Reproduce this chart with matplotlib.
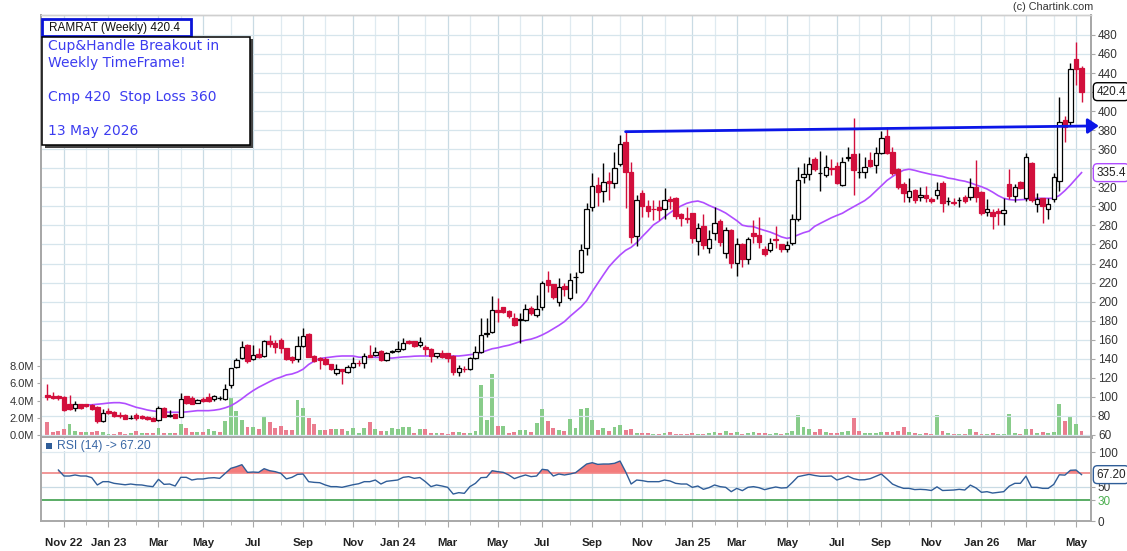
import numpy as np
import pandas as pd
import matplotlib
matplotlib.use("Agg")
import matplotlib.pyplot as plt
from matplotlib.patches import Rectangle
from matplotlib.ticker import FuncFormatter

plt.rcParams['font.family'] = ['Liberation Sans', 'DejaVu Sans']

# ---------------- data ----------------
first_week = "2022-10-17"
symbol_title = "RAMRAT (Weekly) 420.4"
note_lines = ["Cup&Handle Breakout in", "Weekly TimeFrame!", "", "Cmp 420  Stop Loss 360", "", "13 May 2026"]

opens = [
    102, 101, 101, 100, 92.5, 88, 92, 92, 91, 89,
    75, 85.5, 84, 81, 81, 78, 81, 80, 79, 78,
    75.7, 88, 80, 82, 79, 101, 99, 94, 97.8, 99.5,
    97.4, 98.5, 97.4, 112, 131.7, 140.5, 154.5, 139.4, 145, 142.9,
    159, 156.9, 160, 151, 141.5, 139.4, 153.4, 165.7, 142.9, 141.2,
    139.4, 134.5, 125.4, 129.3, 126.5, 131.7, 136, 135.9, 144, 144,
    148.2, 138.7, 147.5, 148.2, 150, 159, 158.7, 154, 152, 150.3,
    142.9, 145.7, 145.7, 142.9, 126.5, 129.5, 129, 140.5, 146.8, 166.5,
    168.5, 191.2, 194, 190.5, 182.5, 181, 180.7, 193, 185.9, 194,
    222.7, 218.5, 200, 216.4, 203.4, 225.5, 231.4, 255.9, 299.7, 322.4,
    316.1, 326.6, 324.2, 344.5, 368, 336.4, 268.9, 314.4, 300.4, 297,
    299, 296.9, 308, 308.4, 292, 288.1, 292.7, 264, 279.4, 255.9,
    272.4, 284.6, 250.7, 275.2, 240.9, 260.5, 244.4, 271.7, 270, 255.2,
    254.2, 266.1, 260.5, 254.9, 261.2, 286.4, 330.5, 333.9, 349.7, 334.6,
    332.9, 340.6, 342.3, 322.4, 351, 354.9, 336.4, 336.4, 348.6, 343.4,
    356.3, 373.8, 357.4, 338.8, 323.4, 309.4, 317.1, 309.4, 311.9, 307.3,
    311.9, 324.8, 305.9, 304.9, 306.6, 309.4, 310.1, 320.6, 314.7, 294.4,
    294.4, 295.1, 292.6, 323.4, 310.8, 325.9, 309.1, 345.1, 302.4, 308.4,
    296.8, 307.3, 326.9, 390.6, 388.9, 454.3, 444.9,
]
highs = [
    114, 105, 102, 101, 102, 95.5, 93, 92.5, 92, 90,
    87, 88, 85.5, 84.5, 82, 81, 83.5, 81, 80, 79,
    90.5, 89, 86.5, 82.5, 104.4, 101, 100.9, 98, 100.2, 104.4,
    101.6, 100.9, 113.5, 130.7, 140.5, 158.7, 155.5, 154.5, 151, 159.7,
    165, 159.7, 161.5, 151, 143, 163.9, 172, 166.7, 143.9, 141.5,
    141.5, 135, 135, 129.3, 133.4, 142.2, 138.7, 145.7, 154.5, 152.7,
    149, 147.5, 149.2, 159, 161.5, 159.7, 159, 163.2, 154.5, 151,
    146.5, 149.2, 146, 143.9, 133.4, 132.5, 141.5, 153.4, 182.5, 182.5,
    205.9, 203.5, 194.5, 191, 188.4, 188.4, 197.3, 195, 207, 222,
    232.5, 219, 224.4, 219.2, 230.4, 231.4, 260.5, 303.9, 335.4, 331,
    345.2, 336.4, 357.4, 375, 378.4, 346.9, 312, 317, 306.7, 306.7,
    306.7, 319, 311, 310, 292.7, 299, 293, 282.2, 292, 275.2,
    299, 286.4, 278.6, 276, 266.4, 262, 267.5, 285.7, 289, 258,
    266.4, 279.4, 261, 264, 292, 341, 345.1, 352, 351.5, 358.4,
    353.9, 349.3, 347, 352.1, 362.6, 393, 356.3, 351.5, 357.4, 361.9,
    379.4, 383.6, 361.9, 340, 325.9, 329.4, 318, 320.6, 321.3, 310.1,
    325.9, 326.9, 310.1, 308.4, 310.1, 311.9, 329.4, 348.6, 316, 307.3,
    297, 297.8, 309.1, 338.8, 323.4, 327, 356.3, 347, 313.6, 309,
    308.4, 334.6, 414.4, 395.2, 450, 472.9, 447.3,
]
lows = [
    97, 98, 97, 85, 86, 85.5, 87, 89.5, 86, 73,
    74, 82, 79, 77.5, 76.5, 76.5, 75.5, 76.5, 75.5, 74.5,
    75, 78.5, 79, 77.5, 78.5, 92.5, 93.2, 93.2, 94.3, 95,
    96, 96.7, 96.7, 109.7, 130.7, 139.4, 135.9, 138.7, 140.5, 142.2,
    152.7, 145.7, 145.7, 138.7, 136, 137, 152.5, 142.2, 137, 129,
    133.5, 128, 123, 113.5, 125.5, 130.5, 132.5, 130, 141.5, 143,
    137.5, 137.5, 145.7, 147, 149, 155.5, 152.5, 152.5, 144, 137,
    141, 140.5, 137, 123, 122, 126.5, 128, 140, 146, 163.2,
    166.7, 179, 188, 183, 174, 157, 179.5, 185.5, 184, 191,
    210, 203, 195, 205.5, 201.5, 208.7, 229.7, 249, 295.5, 300.4,
    305, 306.7, 319, 342, 298, 262, 258.4, 288.5, 288.5, 285.7,
    286, 287, 297, 287, 279.4, 282, 262, 249, 255, 250.7,
    265, 258, 246, 235, 226.9, 236.7, 239.5, 262, 256, 248,
    252.5, 256, 252, 252, 259.5, 285, 324.8, 327.6, 337, 316.4,
    331, 332.9, 323, 321.5, 348, 311.9, 330, 330, 341.5, 335.3,
    355, 355, 333, 318, 304.9, 305, 303.1, 306, 305, 303,
    308, 294.4, 301, 301, 299.6, 304, 307, 305, 291, 290,
    275.8, 280.4, 280.4, 308, 305, 318, 306, 305, 294.4, 282,
    286.4, 305, 316.4, 367.8, 385.4, 427.4, 409.9,
]
closes = [
    99.5, 99, 98.5, 86, 87, 92, 88, 90, 87, 75,
    83, 83.5, 80, 79.5, 77, 78, 77.5, 77.5, 76.5, 75,
    88, 79, 81, 78, 97.4, 93.2, 93, 96.7, 96, 96,
    100.5, 98.5, 107.9, 130, 138.7, 152.7, 138, 143.6, 142.2, 159,
    155.5, 152.7, 151, 139.4, 138.7, 153.4, 163.9, 142.2, 138, 138.7,
    134.5, 128.9, 128.9, 127.5, 131, 135.2, 135.2, 142.9, 142.2, 147.5,
    138.7, 146.4, 148.5, 150.3, 156.9, 157, 153.4, 158, 150, 142.9,
    145.7, 142.2, 140.5, 126.5, 130, 129, 140.5, 146.8, 165, 167,
    191.2, 189.5, 189.5, 185, 175.5, 181.8, 192, 187.7, 191.9, 219.2,
    217.4, 204.5, 215, 212.9, 222.7, 225.5, 254.2, 296.9, 321.4, 315.4,
    325.9, 324.2, 339.9, 365.5, 336.4, 268.2, 306.7, 300.4, 295.5, 296.9,
    296, 306.7, 306, 289.9, 287.4, 286.4, 266.4, 276.9, 259.4, 265.4,
    282.9, 263, 275.2, 240.9, 260.5, 244.4, 265.4, 268.9, 263, 250,
    261.9, 264.7, 254.9, 259.4, 286.4, 327.7, 333.9, 344, 338.8, 335,
    340.9, 338.8, 324.8, 346.9, 351.5, 338.1, 336.4, 340.9, 342.3, 356.3,
    371.4, 356.3, 334.6, 320.6, 313.6, 316.1, 306.6, 311.9, 308.4, 305.9,
    317.1, 303.1, 305.9, 303.1, 306.6, 305.9, 319.9, 310.1, 293.3, 296.8,
    289.8, 292.6, 296.1, 310.8, 319.9, 319.6, 352.1, 306.6, 307.3, 300.3,
    302.4, 330.4, 388.9, 383.6, 443.8, 443.8, 420.4,
]
volume_m = [
    1.55, 0.4, 0.5, 0.7, 1.3, 0.47, 0.4, 0.35, 0.35, 0.5,
    0.3, 0.15, 0.1, 0.35, 0.15, 0.27, 0.47, 0.23, 0.19, 0.23,
    0.82, 0.23, 0.23, 0.23, 1.3, 0.8, 0.35, 0.35, 0.35, 0.66,
    0.47, 0.35, 1.63, 4.4, 2.8, 1.7, 0.9, 0.9, 0.75, 2.2,
    1.55, 0.8, 1.05, 0.55, 0.6, 4.07, 3.1, 1.94, 1.28, 0.6,
    0.6, 0.7, 0.7, 0.66, 0.43, 0.78, 0.27, 0.78, 1.55, 0.7,
    0.5, 0.47, 0.8, 0.7, 0.93, 0.93, 0.23, 0.7, 0.7, 0.23,
    0.23, 0.23, 0.15, 0.4, 0.4, 0.23, 0.23, 0.47, 5.81, 1.74,
    7.09, 1.05, 1.05, 0.27, 0.39, 0.58, 0.58, 0.39, 1.36, 2.99,
    1.63, 0.8, 0.58, 0.47, 1.82, 0.8, 3.02, 3.14, 1.78, 0.58,
    0.8, 0.47, 0.93, 1.16, 0.58, 0.66, 0.27, 0.23, 0.23, 0.12,
    0.12, 0.23, 0.35, 0.15, 0.15, 0.15, 0.23, 0.15, 0.15, 0.23,
    0.39, 0.23, 0.47, 0.23, 0.39, 0.15, 0.23, 0.39, 0.27, 0.27,
    0.15, 0.23, 0.15, 0.27, 0.5, 2.33, 0.93, 0.7, 0.39, 0.74,
    0.39, 0.27, 0.27, 0.39, 0.5, 2.0, 0.5, 0.27, 0.27, 0.27,
    0.39, 0.39, 0.39, 0.5, 0.93, 0.39, 0.27, 0.15, 0.27, 0.15,
    2.33, 0.5, 0.27, 0.15, 0.15, 0.15, 0.7, 0.39, 0.15, 0.15,
    0.27, 0.15, 0.15, 2.48, 0.27, 0.15, 0.7, 0.7, 0.27, 0.39,
    0.27, 0.39, 3.6, 1.63, 2.1, 1.3, 0.5,
]
nan = float('nan')
ma20 = [
    nan, nan, nan, nan, 91.0, 91.2, 91.4, 91.5, 91.7, 92.2,
    92.8, 93.5, 93.9, 93.9, 93.0, 91.0, 89.0, 87.7, 86.2, 85.2,
    84.6, 84.2, 83.8, 83.8, 83.8, 84.2, 84.8, 85.5, 85.5, 85.5,
    86.0, 86.9, 88.5, 90.6, 94.0, 98.0, 102.5, 106.5, 110.0, 113.0,
    116.0, 118.8, 120.7, 123.0, 124.0, 126.0, 129.0, 134.0, 137.5, 140.3,
    141.0, 141.7, 142.5, 142.9, 142.9, 142.9, 141.7, 141.5, 141.5, 141.5,
    141.3, 140.8, 140.7, 141.3, 141.9, 142.2, 142.7, 142.9, 142.9, 142.9,
    142.9, 142.9, 142.9, 142.9, 142.9, 143.5, 144.3, 145.0, 146.5, 148.5,
    150.5, 151.5, 153.0, 154.2, 156.0, 158.0, 159.5, 160.6, 162.5, 165.0,
    168.0, 171.5, 175.0, 179.0, 184.5, 189.5, 194.5, 201.0, 210.5, 219.3,
    228.0, 236.5, 243.0, 248.9, 253.8, 257.0, 261.9, 268.3, 274.2, 280.5,
    284.3, 289.0, 293.3, 297.3, 300.5, 303.2, 304.8, 305.6, 303.9, 301.0,
    298.5, 296.0, 293.0, 289.0, 285.0, 280.2, 279.0, 278.7, 276.5, 274.7,
    273.0, 270.7, 268.0, 266.4, 267.5, 270.0, 272.3, 274.0, 279.0, 282.1,
    285.0, 288.0, 290.5, 292.8, 296.3, 299.6, 302.8, 306.0, 310.5, 316.0,
    321.6, 327.2, 331.3, 335.0, 338.0, 339.0, 337.8, 336.2, 334.8, 333.5,
    332.4, 331.4, 329.7, 328.8, 327.4, 326.4, 324.7, 322.5, 320.6, 318.2,
    315.0, 311.3, 308.5, 307.1, 306.6, 307.0, 307.3, 308.2, 308.4, 308.4,
    308.4, 308.4, 311.4, 316.5, 322.4, 329.0, 335.4,
]
rsi14 = [
    nan, nan, 73.9, 65.2, 65.2, 66.7, 65.2, 65.2, 62.8, 52.2,
    57.0, 57.0, 54.6, 53.6, 52.5, 53.6, 52.5, 52.2, 50.7, 49.8,
    60.4, 53.1, 53.6, 50.7, 63.3, 63.3, 59.4, 60.9, 60.9, 62.3,
    62.8, 61.8, 69.1, 76.3, 78.7, 81.6, 70.5, 71.0, 70.5, 75.8,
    72.9, 71.5, 69.1, 61.0, 63.3, 67.6, 68.1, 57.0, 56.0, 55.5,
    52.2, 49.8, 49.8, 48.8, 50.7, 52.6, 54.0, 57.0, 57.0, 59.4,
    53.6, 57.5, 58.5, 59.4, 63.3, 64.3, 61.8, 63.0, 57.0, 49.8,
    52.2, 50.7, 48.8, 39.1, 41.1, 40.1, 49.8, 54.6, 62.8, 63.3,
    72.9, 71.5, 70.5, 66.7, 61.4, 64.3, 66.7, 64.3, 65.2, 74.9,
    73.9, 65.2, 68.1, 66.7, 68.1, 70.0, 76.3, 82.6, 84.5, 82.1,
    82.6, 82.6, 83.6, 86.9, 71.5, 53.6, 59.4, 58.5, 57.0, 57.0,
    57.0, 59.4, 58.0, 54.6, 53.6, 53.6, 48.8, 50.7, 45.9, 48.3,
    52.2, 49.8, 48.8, 42.5, 47.3, 44.0, 48.8, 49.8, 48.3, 45.4,
    47.5, 49.3, 47.8, 48.3, 56.0, 64.3, 66.0, 67.6, 66.0, 64.8,
    64.8, 65.2, 59.4, 62.0, 65.0, 61.4, 59.6, 59.8, 61.4, 64.8,
    68.1, 61.0, 53.5, 50.0, 47.3, 47.3, 45.5, 45.9, 45.4, 44.2,
    49.5, 44.2, 44.5, 44.9, 45.9, 44.9, 52.0, 48.0, 41.6, 42.5,
    40.5, 41.5, 42.5, 50.5, 54.6, 54.6, 65.0, 48.8, 48.8, 47.3,
    47.3, 53.0, 67.0, 66.5, 73.5, 73.9, 67.2,
]
# hand-drawn breakout line: from the high of candle #105 to just past the last candle
trend_idx = [104, 189.1]
trend_price = [378.4, 384.5]

price_ticks = list(range(60, 481, 20))
vol_ticks_m = [0, 2, 4, 6, 8]
rsi_ticks = [0, 30, 50, 100]

# ---------------- styling ----------------
W, H = 1127, 551
RED = '#d20f3c'
VOL_UP = '#88cc8a'
VOL_DN = '#ea7d8f'
PURPLE = '#b04dff'
RSI_BLUE = '#2f5d98'
GRID_MIN = '#dfeaf0'
GRID_MAJ = '#c9dbe4'
SPINE = '#a8a8a8'

def fx(px):
    return px / W

def fy(py):
    return 1 - py / H

fig = plt.figure(figsize=(W / 100, H / 100), dpi=100)
fig.patch.set_facecolor('white')

L, R = 41, 1091
TOP, MID, BOT = 15, 437, 521

ax_vol = fig.add_axes([fx(L), fy(MID), (R - L) / W, (MID - TOP) / H])
ax = ax_vol.twinx()
ax_r = fig.add_axes([fx(L), fy(BOT), (R - L) / W, (BOT - MID - 1) / H], sharex=ax_vol)

n = len(closes)
idx = np.arange(n)
o = np.array(opens, float)
h = np.array(highs, float)
lo = np.array(lows, float)
c = np.array(closes, float)
vol = np.array(volume_m, float) * 1e6
dates = pd.date_range(first_week, periods=n, freq='7D')

# month ticks (first candle of each month)
major_pos, major_lab, minor_pos = [], [], []
first_label = True
for k in range(1, n):
    if dates[k].month != dates[k - 1].month:
        m = dates[k].month
        if m % 2 == 1:
            major_pos.append(k)
            if m == 1 or first_label:
                major_lab.append(dates[k].strftime('%b %y'))
            else:
                major_lab.append(dates[k].strftime('%b'))
            first_label = False
        else:
            minor_pos.append(k)

ax_vol.set_xlim(-1.13, 187.7)

# vertical grid lines
for a in (ax_vol, ax_r):
    for p in minor_pos:
        a.axvline(p, color=GRID_MIN, lw=0.9, zorder=0)
    for p in major_pos:
        a.axvline(p, color=GRID_MAJ, lw=0.9, zorder=0)

# ---------- volume ----------
vol_colors = [VOL_DN] + [VOL_UP if c[k] >= c[k - 1] else VOL_DN for k in range(1, n)]
ax_vol.bar(idx, vol, width=0.7, color=vol_colors, zorder=2, linewidth=0)
ax_vol.set_ylim(-0.233e6, 48.84e6)
ax_vol.set_yticks([v * 1e6 for v in vol_ticks_m])
ax_vol.yaxis.set_major_formatter(FuncFormatter(lambda v, p: f'{v / 1e6:.1f}M'))
ax_vol.tick_params(axis='y', which='both', left=True, length=3, color=SPINE,
                   labelsize=8, labelcolor='#333333', pad=2)
ax_vol.tick_params(axis='x', which='both', length=0, labelbottom=False)
ax_vol.patch.set_facecolor('white')

# ---------- price ----------
box_values = [closes[-1], ma20[-1]]
ax.set_ylim(57.85, 500.9)
ax.set_yticks(price_ticks)
# tick labels that sit under the value boxes are hidden, as in the original
ax.set_yticklabels([('' if any(abs(t - b) < 9 for b in box_values) else f'{t}') for t in price_ticks])
ax.tick_params(axis='y', right=True, length=3, color=SPINE, labelsize=8.5,
               labelcolor='#333333', pad=2)
ax.set_axisbelow(True)
ax.grid(axis='y', color='#d6e5ec', lw=0.9)
ax.plot(idx, ma20, color=PURPLE, lw=1.2, zorder=2.5)

up = c >= o
body_lo = np.minimum(o, c)
body_h = np.abs(c - o)
wick_cols = [('black' if u else RED) for u in up]
ax.vlines(idx, lo, h, colors=wick_cols, lw=1.0, zorder=3)
ax.bar(idx[up], body_h[up], bottom=body_lo[up], width=0.8, facecolor='white',
       edgecolor='black', linewidth=0.9, zorder=4)
ax.bar(idx[~up], body_h[~up], bottom=body_lo[~up], width=0.8, facecolor=RED,
       edgecolor=RED, linewidth=0.9, zorder=4)

# breakout line with arrow
ax.annotate('', xy=(trend_idx[1], trend_price[1]), xytext=(trend_idx[0], trend_price[0]),
            xycoords='data', textcoords='data', annotation_clip=False,
            arrowprops=dict(arrowstyle='-|>,head_length=0.65,head_width=0.45',
                            color='#0b16e8', lw=2.0, shrinkA=0, shrinkB=0,
                            mutation_scale=10), zorder=8)

# value boxes on the price axis
ax.annotate(f'{closes[-1]:.1f}', xy=(1.0, closes[-1]), xycoords=('axes fraction', 'data'),
            xytext=(3.8, 0), textcoords='offset points', ha='left', va='center',
            fontsize=8.5, color='#222222', annotation_clip=False, zorder=10,
            bbox=dict(boxstyle='round,pad=0.25,rounding_size=0.35', fc='white', ec='black', lw=1))
ax.annotate(f'{ma20[-1]:.1f}', xy=(1.0, ma20[-1]), xycoords=('axes fraction', 'data'),
            xytext=(3.8, 0), textcoords='offset points', ha='left', va='center',
            fontsize=8.5, color='#222222', annotation_clip=False, zorder=10,
            bbox=dict(boxstyle='round,pad=0.25,rounding_size=0.35', fc='white', ec=PURPLE, lw=1))

for a in (ax_vol, ax):
    a.spines['left'].set_color(SPINE)
    a.spines['left'].set_linewidth(1.4)
    a.spines['right'].set_color(SPINE)
    a.spines['right'].set_linewidth(1.4)
    a.spines['top'].set_color('#cfcfcf')
    a.spines['top'].set_linewidth(1.0)
    a.spines['bottom'].set_color(SPINE)
    a.spines['bottom'].set_linewidth(2.0)

# ---------- RSI ----------
r = np.array(rsi14, float)
ax_r.set_ylim(0, 120.3)
ax_r.axhline(100, color=GRID_MIN, lw=0.9, zorder=0)
ax_r.axhline(50, color=GRID_MAJ, lw=0.9, zorder=0)
ax_r.axhline(70, color='#f08585', lw=1.2, zorder=1)
ax_r.axhline(30, color='#3d9e4c', lw=1.2, zorder=1)
ax_r.fill_between(idx, r, 70, where=(r >= 70), interpolate=True, color='#f47c7c', lw=0, zorder=2)
ax_r.plot(idx, r, color=RSI_BLUE, lw=1.0, zorder=3)
ax_r.yaxis.tick_right()
ax_r.set_yticks(rsi_ticks)
ax_r.set_yticklabels([str(t) for t in rsi_ticks])
ax_r.tick_params(axis='y', right=True, length=3, color=SPINE, labelsize=8.5,
                 labelcolor='#333333', pad=2)
for t in ax_r.get_yticklabels():
    if t.get_text() == '30':
        t.set_color('#4caf50')
ax_r.set_xticks(major_pos)
ax_r.set_xticklabels(major_lab)
ax_r.set_xticks(minor_pos, minor=True)
ax_r.tick_params(axis='x', which='major', length=4, color=SPINE, labelsize=8.2, pad=8)
ax_r.tick_params(axis='x', which='minor', length=3, color=SPINE)
for t in ax_r.get_xticklabels():
    t.set_fontweight('bold')
    t.set_color('#222222')
ax_r.spines['top'].set_visible(False)
for s in ('left', 'right', 'bottom'):
    ax_r.spines[s].set_color(SPINE)
    ax_r.spines[s].set_linewidth(1.4)
ax_r.annotate(f'{rsi14[-1]:.2f}', xy=(1.0, rsi14[-1]), xycoords=('axes fraction', 'data'),
              xytext=(3.8, 0), textcoords='offset points', ha='left', va='center',
              fontsize=8.5, color='#222222', annotation_clip=False, zorder=10,
              bbox=dict(boxstyle='round,pad=0.25,rounding_size=0.35', fc='white', ec=RSI_BLUE, lw=1))

# RSI legend
fig.add_artist(Rectangle((fx(43), fy(451)), 110 / W, 12 / H, transform=fig.transFigure,
                         facecolor='white', edgecolor='none', zorder=5))
fig.add_artist(Rectangle((fx(46), fy(449)), 6 / W, 6 / H, transform=fig.transFigure,
                         facecolor=RSI_BLUE, edgecolor='none', zorder=6))
fig.text(fx(57), fy(446), f'RSI (14) -> {rsi14[-1]:.2f}', fontsize=8.7, color='#3a68a6',
         ha='left', va='center', zorder=7)

# ---------- header texts ----------
fig.text(fx(1093), fy(7), '(c) Chartink.com', fontsize=7.8, color='#333333', ha='right', va='center')
fig.add_artist(Rectangle((fx(42), fy(36)), 149 / W, 17 / H, transform=fig.transFigure,
                         facecolor='white', edgecolor='#0a14d8', lw=2, zorder=5))
fig.text(fx(49), fy(27.5), symbol_title, fontsize=8.5, color='#111111', ha='left', va='center', zorder=6)

# note box with shadow
fig.add_artist(Rectangle((fx(44.5), fy(147.5)), 208 / W, 108 / H, transform=fig.transFigure,
                         facecolor='#444444', edgecolor='none', zorder=5))
fig.add_artist(Rectangle((fx(42), fy(145)), 208 / W, 108 / H, transform=fig.transFigure,
                         facecolor='white', edgecolor='black', lw=1.1, zorder=6))
for k, line in enumerate(note_lines):
    if line:
        fig.text(fx(48), fy(46 + 17 * k), line, fontsize=10, color='#3c3cf0',
                 family=['DejaVu Sans'], ha='left', va='center', zorder=7)

fig.savefig('out.png', dpi=100, facecolor='white')
